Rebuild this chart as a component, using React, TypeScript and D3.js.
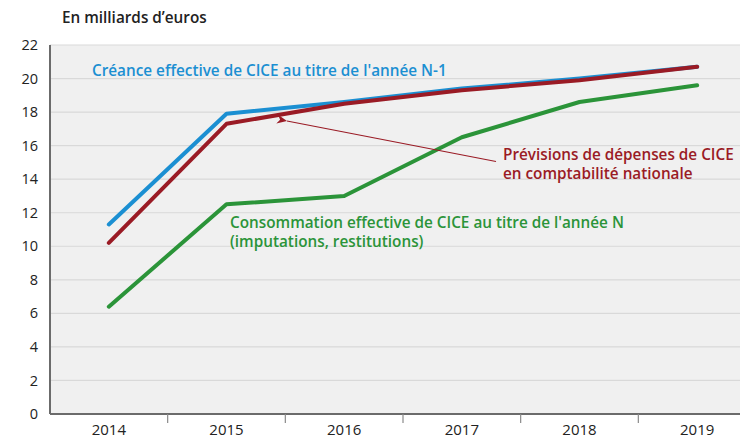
import React from "react";
import * as d3 from "d3";

const years = ["2014", "2015", "2016", "2017", "2018", "2019"];
const creance = [11.3, 17.9, 18.6, 19.4, 20.0, 20.7];
const previsions = [10.2, 17.3, 18.5, 19.3, 19.9, 20.7];
const consommation = [6.4, 12.5, 13.0, 16.5, 18.6, 19.6];
const yTicks = [0, 2, 4, 6, 8, 10, 12, 14, 16, 18, 20, 22];

const width = 740;
const height = 440;
const left = 50;
const top = 45;
const bottom = 414;

const font = "'Open Sans', sans-serif";
const labelSize = 15.3;

const App = () => {
  const x = d3.scaleBand().domain(years).range([left, 756]);
  const y = d3.scaleLinear().domain([0, 22]).range([bottom, top]);

  const line = d3
    .line<number>()
    .x((d, i) => x(years[i])! + x.bandwidth() / 2)
    .y((d) => y(d));

  const series = [
    { values: creance, color: "#1b8fd2" },
    { values: consommation, color: "#2b9439" },
    { values: previsions, color: "#9a1b25" },
  ];

  return (
    <svg
      width={width}
      height={height}
      style={{ position: "absolute", left: 0, top: 0 }}
      fontFamily={font}
    >
      <rect x={left} y={top} width={width - left} height={bottom - top} fill="#f0f0f0" />
      {yTicks.map((t) => (
        <g key={t}>
          {t > 0 && (
            <line x1={left} x2={width} y1={y(t)} y2={y(t)} stroke="#d9d9d9" strokeWidth={1.2} />
          )}
          <text x={38} y={y(t)} dy="0.35em" textAnchor="end" fontSize={14.5} fill="#222">
            {t}
          </text>
        </g>
      ))}
      <line x1={left} x2={width} y1={bottom} y2={bottom} stroke="#6b6b6b" strokeWidth={2} />
      <line x1={left} x2={left} y1={top} y2={bottom} stroke="#6b6b6b" strokeWidth={2} />
      {years.slice(1).map((yr) => (
        <line key={yr} x1={x(yr)} x2={x(yr)} y1={bottom} y2={bottom + 9} stroke="#8a8a8a" strokeWidth={1.2} />
      ))}
      {years.map((yr) => (
        <text key={yr} x={x(yr)! + x.bandwidth() / 2} y={435} textAnchor="middle" fontSize={15} fill="#222">
          {yr}
        </text>
      ))}
      <text x={62} y={23} fontSize={15.3} fontWeight={600} fill="#222">
        En milliards d’euros
      </text>

      {series.map((s, i) => (
        <path
          key={i}
          d={line(s.values)!}
          fill="none"
          stroke={s.color}
          strokeWidth={4}
          strokeLinejoin="round"
          strokeLinecap="round"
        />
      ))}

      <defs>
        <marker
          id="arr"
          viewBox="0 0 10 10"
          refX={0}
          refY={5}
          markerWidth={10}
          markerHeight={10}
          markerUnits="userSpaceOnUse"
          orient="auto"
        >
          <path d="M10,0.5 L0,5 L10,9.5 L7,5 Z" fill="#9a1b25" />
        </marker>
      </defs>
      <line
        x1={496}
        y1={161.5}
        x2={287}
        y2={121}
        stroke="#9a1b25"
        strokeWidth={1.2}
        markerEnd="url(#arr)"
      />

      <text x={92} y={76} fontSize={labelSize} fontWeight={600} fill="#1b8fd2">
        Créance effective de CICE au titre de l'année N-1
      </text>
      <text x={503} y={160} fontSize={labelSize} fontWeight={600} fill="#9a1b25">
        Prévisions de dépenses de CICE
      </text>
      <text x={503} y={179} fontSize={labelSize} fontWeight={600} fill="#9a1b25">
        en comptabilité nationale
      </text>
      <text x={230} y={228} fontSize={labelSize} fontWeight={600} fill="#2b9439">
        Consommation effective de CICE au titre de l'année N
      </text>
      <text x={230} y={247} fontSize={labelSize} fontWeight={600} fill="#2b9439">
        (imputations, restitutions)
      </text>
    </svg>
  );
};

export default App;
